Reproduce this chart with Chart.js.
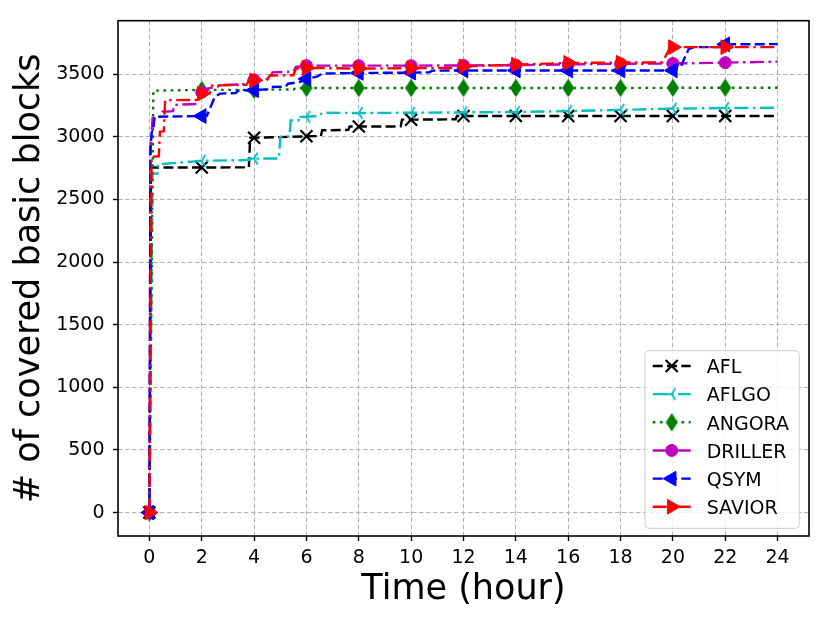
<!DOCTYPE html>
<html>
<head>
<meta charset="utf-8">
<script src="https://cdn.jsdelivr.net/npm/chart.js@4.4.1/dist/chart.umd.min.js"></script>
<style>
  html, body { margin: 0; padding: 0; background: #ffffff; }
  #wrap { width: 830px; height: 624px; position: relative; }
</style>
</head>
<body>
<div id="wrap"><canvas id="c" width="830" height="624"></canvas></div>
<script>
// ---------------- DATA ----------------
const seriesNames = ['AFL', 'AFLGO', 'ANGORA', 'DRILLER', 'QSYM', 'SAVIOR'];
const markerHours = [0, 2, 4, 6, 8, 10, 12, 14, 16, 18, 20, 22];
const xTicks = [0, 2, 4, 6, 8, 10, 12, 14, 16, 18, 20, 22, 24];
const yTicks = [0, 500, 1000, 1500, 2000, 2500, 3000, 3500];

const aflTimes  = [0, 0.06, 2, 3.8, 3.85, 4, 6, 6.55, 6.6, 7.6, 7.65, 8, 9.6, 9.65, 10, 11.7, 11.75, 12, 14, 16, 18, 20, 22, 24];
const aflValues = [0, 2755, 2755, 2756, 2992, 2992, 3004, 3006, 3052, 3055, 3082, 3082, 3083, 3137, 3137, 3140, 3166, 3166, 3166, 3166, 3166, 3166, 3166, 3166];

const aflgoTimes  = [0, 0.12, 0.3, 0.33, 2, 3.8, 3.85, 4, 4.95, 5.0, 5.35, 5.4, 5.7, 5.75, 6, 6.5, 6.6, 8, 10, 12, 14, 16, 18, 20, 22, 24];
const aflgoValues = [0, 2706, 2706, 2780, 2808, 2815, 2826, 2826, 2827, 3000, 3002, 3131, 3132, 3158, 3160, 3168, 3192, 3190, 3192, 3195, 3198, 3205, 3215, 3225, 3230, 3232];

const angoraTimes  = [0, 0.15, 2, 4, 5.5, 5.6, 6, 8, 10, 12, 14, 16, 18, 20, 22, 24];
const angoraValues = [0, 3368, 3375, 3375, 3378, 3390, 3390, 3390, 3390, 3390, 3390, 3390, 3390, 3391, 3392, 3392];

const drillerTimes  = [0, 0.04, 0.08, 0.12, 0.45, 0.5, 0.9, 0.95, 1.8, 1.95, 2, 2.2, 2.6, 2.7, 3.6, 3.7, 4, 4.6, 4.7, 5.5, 5.6, 6, 8, 10, 12, 14, 16, 18, 20, 22, 24];
const drillerValues = [0, 2900, 2990, 3150, 3160, 3200, 3205, 3255, 3262, 3350, 3355, 3385, 3400, 3412, 3420, 3450, 3455, 3465, 3515, 3520, 3558, 3568, 3568, 3568, 3570, 3572, 3578, 3583, 3585, 3592, 3600];

const qsymTimes  = [0, 0.04, 0.1, 0.15, 0.2, 2, 2.2, 2.5, 2.7, 3.3, 3.4, 4, 4.5, 4.6, 5.2, 5.3, 5.8, 6, 6.4, 6.6, 8, 10, 10.7, 10.8, 12, 14, 16, 18, 20, 20.3, 20.6, 20.8, 21.8, 21.9, 22, 24];
const qsymValues = [0, 2920, 3060, 3065, 3160, 3166, 3170, 3320, 3345, 3350, 3370, 3372, 3380, 3397, 3400, 3424, 3440, 3462, 3480, 3505, 3510, 3512, 3515, 3528, 3530, 3530, 3530, 3530, 3530, 3560, 3700, 3716, 3716, 3738, 3738, 3740];

const saviorTimes  = [0, 0.08, 0.36, 0.4, 0.55, 0.6, 1.85, 1.95, 2, 2.3, 2.4, 3.7, 3.8, 4, 4.5, 4.6, 5.5, 5.6, 6, 8, 10, 11.8, 12, 14, 16, 18, 19.6, 19.9, 20, 22, 24];
const saviorValues = [0, 2840, 2845, 3040, 3045, 3292, 3295, 3340, 3345, 3348, 3410, 3415, 3445, 3450, 3455, 3490, 3492, 3545, 3550, 3545, 3548, 3550, 3562, 3576, 3590, 3592, 3595, 3716, 3716, 3716, 3716];

// ---------------- STYLES ----------------
const FONT = "'DejaVu Sans', 'Liberation Sans', sans-serif";
const DASHED = [10, 4.3];
const DASHDOT = [14, 4.5, 2.5, 4.5];
const DOTTED = [2.7, 4.5];

function makeThinDiamond(color) {
  const cv = document.createElement('canvas');
  cv.width = 14; cv.height = 20;
  const g = cv.getContext('2d');
  g.beginPath();
  g.moveTo(7, 1.5); g.lineTo(12.5, 10); g.lineTo(7, 18.5); g.lineTo(1.5, 10); g.closePath();
  g.fillStyle = color; g.strokeStyle = color; g.lineWidth = 1;
  g.fill(); g.stroke();
  return cv;
}
function makeTriLeft(color) {
  const cv = document.createElement('canvas');
  cv.width = 18; cv.height = 18;
  const g = cv.getContext('2d');
  const cx = 9, cy = 9, L = 7;
  g.strokeStyle = color; g.lineWidth = 1.8; g.lineCap = 'butt';
  g.beginPath();
  g.moveTo(cx, cy); g.lineTo(cx - L, cy);
  g.moveTo(cx, cy); g.lineTo(cx + L * 0.5, cy - L * 0.866);
  g.moveTo(cx, cy); g.lineTo(cx + L * 0.5, cy + L * 0.866);
  g.stroke();
  return cv;
}

const seriesTimes = [aflTimes, aflgoTimes, angoraTimes, drillerTimes, qsymTimes, saviorTimes];
const seriesValues = [aflValues, aflgoValues, angoraValues, drillerValues, qsymValues, saviorValues];
const seriesStyles = [
  { color: '#000000', dash: DASHED,  point: 'crossRot', radius: 8.5, rot: 0,   pbw: 2.2 },
  { color: '#00bfbf', dash: DASHDOT, point: makeTriLeft('#00bfbf'), radius: 6, rot: 0, pbw: 1 },
  { color: '#008000', dash: DOTTED,  point: makeThinDiamond('#008000'), radius: 8, rot: 0, pbw: 1 },
  { color: '#bf00bf', dash: DASHDOT, point: 'circle',   radius: 6,   rot: 0,   pbw: 1 },
  { color: '#0000ff', dash: DASHED,  point: 'triangle', radius: 8.5, rot: -90, pbw: 1 },
  { color: '#ff0000', dash: DASHDOT, point: 'triangle', radius: 8.5, rot: 90,  pbw: 1 }
];

const datasets = seriesNames.map((name, i) => {
  const st = seriesStyles[i];
  return {
    label: name,
    data: seriesTimes[i].map((t, k) => ({ x: t, y: seriesValues[i][k] })),
    borderColor: st.color,
    backgroundColor: st.color,
    borderWidth: 2.4,
    borderDash: st.dash,
    borderCapStyle: 'butt',
    tension: 0,
    fill: false,
    pointStyle: st.point,
    pointRotation: st.rot,
    pointBackgroundColor: st.point === 'crossRot' ? 'rgba(0,0,0,0)' : st.color,
    pointBorderColor: st.color,
    pointBorderWidth: st.pbw,
    pointRadius: (ctx) => (ctx.raw && markerHours.includes(ctx.raw.x)) ? st.radius : 0,
    pointHoverRadius: 0,
    order: seriesNames.length - i
  };
});

// ---------------- PLUGINS ----------------
const framePlugin = {
  id: 'frame',
  afterDatasetsDraw(chart) {
    const { ctx, chartArea: a } = chart;
    ctx.save();
    ctx.strokeStyle = '#000000';
    ctx.lineWidth = 1.6;
    ctx.setLineDash([]);
    ctx.strokeRect(a.left, a.top, a.right - a.left, a.bottom - a.top);
    ctx.restore();
  }
};

function drawMarker(ctx, st, x, y) {
  const opts = { pointStyle: st.point, radius: st.radius, rotation: st.rot, borderWidth: st.pbw };
  ctx.save();
  ctx.setLineDash([]);
  ctx.fillStyle = st.point === 'crossRot' ? 'rgba(0,0,0,0)' : st.color;
  ctx.strokeStyle = st.color;
  ctx.lineWidth = st.pbw;
  if (Chart.helpers && Chart.helpers.drawPoint) {
    Chart.helpers.drawPoint(ctx, opts, x, y);
  } else if (typeof st.point === 'object') {
    ctx.drawImage(st.point, x - st.point.width / 2, y - st.point.height / 2);
  } else if (st.point === 'circle') {
    ctx.beginPath(); ctx.arc(x, y, st.radius, 0, Math.PI * 2); ctx.fill(); ctx.stroke();
  } else if (st.point === 'crossRot') {
    const o = Math.cos(Math.PI / 4) * st.radius;
    ctx.beginPath(); ctx.moveTo(x - o, y - o); ctx.lineTo(x + o, y + o);
    ctx.moveTo(x - o, y + o); ctx.lineTo(x + o, y - o); ctx.stroke();
  } else {
    let rad = st.rot * Math.PI / 180;
    ctx.beginPath();
    for (let k = 0; k < 3; k++) {
      const px = x + Math.sin(rad) * st.radius, py = y - Math.cos(rad) * st.radius;
      if (k === 0) ctx.moveTo(px, py); else ctx.lineTo(px, py);
      rad += 2 * Math.PI / 3;
    }
    ctx.closePath(); ctx.fill(); ctx.stroke();
  }
  ctx.restore();
}

const legendPlugin = {
  id: 'mplLegend',
  afterDraw(chart) {
    const { ctx, chartArea: a } = chart;
    const w = 154.3, h = 177.6;
    const bx = a.right - 9.7 - w, by = a.bottom - 7.7 - h;
    ctx.save();
    // box
    const r = 4;
    ctx.beginPath();
    ctx.moveTo(bx + r, by);
    ctx.lineTo(bx + w - r, by); ctx.arcTo(bx + w, by, bx + w, by + r, r);
    ctx.lineTo(bx + w, by + h - r); ctx.arcTo(bx + w, by + h, bx + w - r, by + h, r);
    ctx.lineTo(bx + r, by + h); ctx.arcTo(bx, by + h, bx, by + h - r, r);
    ctx.lineTo(bx, by + r); ctx.arcTo(bx, by, bx + r, by, r);
    ctx.closePath();
    ctx.fillStyle = 'rgba(255,255,255,0.8)';
    ctx.fill();
    ctx.strokeStyle = '#cccccc';
    ctx.lineWidth = 1;
    ctx.stroke();
    // entries
    chart.data.datasets.forEach((ds, i) => {
      const st = seriesStyles[i];
      const cy = by + 15.3 + i * 28.15;
      const x0 = bx + 7.7, x1 = bx + 45.7;
      ctx.save();
      ctx.strokeStyle = ds.borderColor;
      ctx.lineWidth = ds.borderWidth;
      ctx.setLineDash(ds.borderDash);
      ctx.lineCap = 'butt';
      ctx.beginPath(); ctx.moveTo(x0, cy); ctx.lineTo(x1, cy); ctx.stroke();
      ctx.restore();
      drawMarker(ctx, st, (x0 + x1) / 2, cy);
      ctx.fillStyle = '#000000';
      ctx.font = '19px ' + FONT;
      ctx.textAlign = 'left';
      ctx.textBaseline = 'alphabetic';
      ctx.fillText(ds.label, bx + 61.7, cy + 7.2);
    });
    ctx.restore();
  }
};

// ---------------- CHART ----------------
new Chart(document.getElementById('c'), {
  type: 'line',
  data: { datasets },
  options: {
    responsive: false,
    devicePixelRatio: 1,
    animation: false,
    events: [],
    layout: { padding: { left: 0, top: 20.7, right: 21, bottom: 0 } },
    plugins: { legend: { display: false }, tooltip: { enabled: false } },
    scales: {
      x: {
        type: 'linear',
        min: -1.2,
        max: 25.2,
        afterBuildTicks: (s) => { s.ticks = xTicks.map(v => ({ value: v })); },
        afterFit: (s) => { s.height = 88; },
        ticks: {
          autoSkip: false, maxRotation: 0, minRotation: 0,
          padding: 5.3, color: '#000000',
          font: { family: FONT, size: 19 },
          callback: (v) => String(v)
        },
        grid: { color: '#b0b0b0', lineWidth: 1, tickColor: '#000000', tickLength: 5, tickWidth: 1.4, drawTicks: true },
        border: { display: false, dash: [4.5, 2.5] },
        title: { display: true, text: 'Time (hour)', color: '#000000', font: { family: FONT, size: 35 }, padding: { top: 0, bottom: 13 } }
      },
      y: {
        type: 'linear',
        min: -187,
        max: 3927,
        afterBuildTicks: (s) => { s.ticks = yTicks.map(v => ({ value: v })); },
        afterFit: (s) => { s.width = 118; },
        ticks: {
          autoSkip: false,
          padding: 8.5, color: '#000000',
          font: { family: FONT, size: 19 },
          callback: (v) => String(v)
        },
        grid: { color: '#b0b0b0', lineWidth: 1, tickColor: '#000000', tickLength: 5, tickWidth: 1.4, drawTicks: true },
        border: { display: false, dash: [4.5, 2.5] },
        title: { display: true, text: '# of covered basic blocks', color: '#000000', font: { family: FONT, size: 35 }, padding: { top: 8.6, bottom: 0 } }
      }
    }
  },
  plugins: [framePlugin, legendPlugin]
});
</script>
</body>
</html>
